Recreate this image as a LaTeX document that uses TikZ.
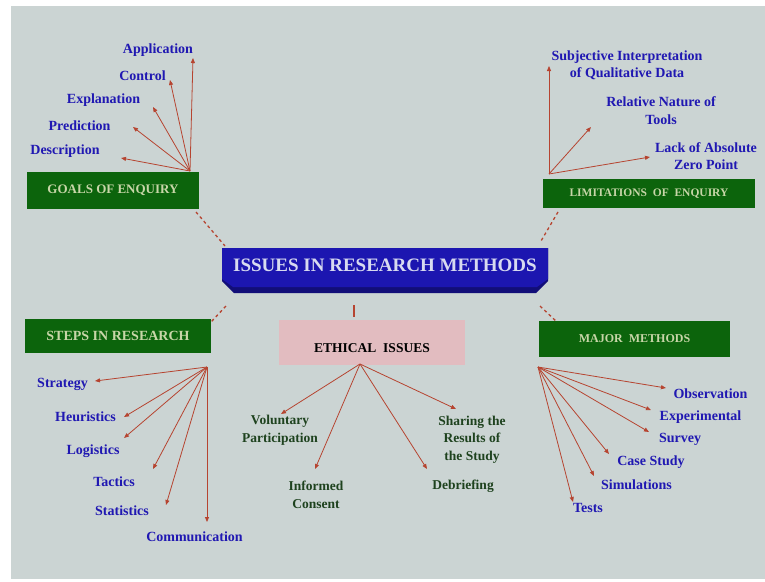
\documentclass[tikz,border=0pt]{standalone}
\usepackage{fontspec}
\setmainfont{Liberation Serif}
\usetikzlibrary{arrows.meta}
\definecolor{bg}{RGB}{203,212,211}
\definecolor{boxgreen}{RGB}{12,100,12}
\definecolor{boxtext}{RGB}{200,214,168}
\definecolor{lblue}{RGB}{32,24,178}
\definecolor{lgreen}{RGB}{30,66,30}
\definecolor{arr}{RGB}{182,68,48}
\definecolor{titleblue}{RGB}{28,22,176}
\definecolor{titledark}{RGB}{18,14,120}
\definecolor{pinkbox}{RGB}{226,188,192}
\tikzset{
  gbox/.style={fill=boxgreen, draw=none, inner sep=0pt, text=boxtext, font=\fontsize{13}{15}\selectfont\bfseries},
  lbl/.style={text=lblue, inner sep=0pt, font=\fontsize{14}{16}\selectfont\bfseries, align=center},
  glbl/.style={text=lgreen, inner sep=0pt, font=\fontsize{13.5}{17.5}\selectfont\bfseries, align=center},
  arrline/.style={draw=arr, line width=0.8pt, -{Triangle[length=5pt,width=4pt]}},
  dashline/.style={draw=arr, line width=1.3pt, dash pattern=on 3pt off 3pt},
}
\begin{document}
\begin{tikzpicture}[x=1pt,y=-1pt]
\useasboundingbox (0,0) rectangle (765,581);
\fill[white] (0,0) rectangle (765,581);
\fill[bg] (11,6) rectangle (765,579);

% ---------- title ----------
\fill[titledark] (222,248) -- (548,248) -- (548,281) -- (536,293) -- (234,293) -- (222,281) -- cycle;
\fill[titleblue] (222,248) -- (548,248) -- (548,279) -- (537,287) -- (233,287) -- (222,279) -- cycle;
\node[text={rgb,255:red,215;green,218;blue,240}, font=\fontsize{19}{21}\selectfont\bfseries, inner sep=0pt] (title) at (385,265) {ISSUES IN RESEARCH METHODS};

% ---------- boxes ----------
\node[gbox, minimum width=172pt, minimum height=37pt] (goals) at (113,190.5) {GOALS OF ENQUIRY};
\node[gbox, minimum width=212pt, minimum height=29pt, font=\fontsize{11.5}{13}\selectfont\bfseries] (limits) at (649,193.5) {LIMITATIONS\ \ OF\ \ ENQUIRY};
\node[gbox, minimum width=186pt, minimum height=34pt, font=\fontsize{14}{16}\selectfont\bfseries] (steps) at (118,336) {STEPS IN RESEARCH};
\node[gbox, minimum width=191pt, minimum height=36pt, font=\fontsize{12}{14}\selectfont\bfseries] (major) at (634.5,339) {MAJOR\ \ METHODS};
\node[fill=pinkbox, inner sep=0pt, minimum width=186pt, minimum height=45pt, text=black, font=\fontsize{13.5}{15}\selectfont\bfseries] (ethical) at (372,342.5) {};
\node[inner sep=0pt, text=black, font=\fontsize{13.5}{15}\selectfont\bfseries] (ethtext) at (372,348) {ETHICAL\ \ ISSUES};

% ---------- dashed links ----------
\coordinate (d1a) at (196,212); \coordinate (d1b) at (225,246);
\coordinate (d2a) at (558,212); \coordinate (d2b) at (541,241);
\coordinate (d3a) at (226,306); \coordinate (d3b) at (211,322);
\coordinate (d4a) at (540,306); \coordinate (d4b) at (557,322);
\coordinate (d5a) at (354,305); \coordinate (d5b) at (354,317);
\draw[dashline] (d1a) -- (d1b);
\draw[dashline] (d2a) -- (d2b);
\draw[dashline] (d3a) -- (d3b);
\draw[dashline] (d4a) -- (d4b);
\draw[draw=arr, line width=1.3pt] (d5a) -- (d5b);

% ---------- goals ----------
\coordinate (go) at (190,171);
\node[lbl] (application) at (158,50) {Application};
\node[lbl] (control) at (142.5,76) {Control};
\node[lbl] (explanation) at (103.5,100) {Explanation};
\node[lbl] (prediction) at (79.5,126) {Prediction};
\node[lbl] (description) at (65,151) {Description};
\coordinate (tapp) at (193,58);
\coordinate (tcon) at (170,80);
\coordinate (texp) at (153,107);
\coordinate (tpre) at (133,127);
\coordinate (tdes) at (121,158);
\foreach \t in {tapp,tcon,texp,tpre,tdes} \draw[arrline] (go) -- (\t);

% ---------- limitations ----------
\coordinate (lo) at (549,174);
\node[lbl] (subj) at (627,65.5) {Subjective Interpretation\\[1.5pt]of Qualitative Data};
\node[lbl] (rel) at (661,110.5) {Relative Nature of\\[1.5pt]Tools};
\node[lbl] (lack) at (706,156) {Lack of Absolute\\[1pt]Zero Point};
\coordinate (tsub) at (549,66);
\coordinate (trel) at (591,127);
\coordinate (tlack) at (650,157);
\foreach \t in {tsub,trel,tlack} \draw[arrline] (lo) -- (\t);

% ---------- steps ----------
\coordinate (so) at (207,367);
\node[lbl] (strategy) at (62.5,384) {Strategy};
\node[lbl] (heur) at (85.5,417) {Heuristics};
\node[lbl] (logi) at (93,451) {Logistics};
\node[lbl] (tact) at (114,482) {Tactics};
\node[lbl] (stat) at (122,511) {Statistics};
\node[lbl] (comm) at (194.5,537) {Communication};
\coordinate (tstr) at (95,381);
\coordinate (theu) at (124,417);
\coordinate (tlog) at (124,438);
\coordinate (ttac) at (153,469);
\coordinate (tsta) at (166,505);
\coordinate (tcom) at (207,522);
\foreach \t in {tstr,theu,tlog,ttac,tsta,tcom} \draw[arrline] (so) -- (\t);

% ---------- ethical ----------
\coordinate (eo) at (360,364);
\node[glbl] (vol) at (280,430) {Voluntary\\Participation};
\node[glbl] (inf) at (316,495) {Informed\\Consent};
\node[glbl] (deb) at (463,486) {Debriefing};
\node[glbl] (shar) at (472,439.5) {Sharing the\\Results of\\the Study};
\coordinate (tvol) at (281,414);
\coordinate (tinf) at (315,469);
\coordinate (tdeb) at (427,469);
\coordinate (tsha) at (456,409);
\foreach \t in {tvol,tinf,tdeb,tsha} \draw[arrline] (eo) -- (\t);

% ---------- major methods ----------
\coordinate (mo) at (538,367);
\node[lbl] (obs) at (710.5,394) {Observation};
\node[lbl] (exp) at (700.5,417) {Experimental};
\node[lbl] (sur) at (680,439) {Survey};
\node[lbl] (case) at (651,462) {Case Study};
\node[lbl] (sim) at (636.5,485) {Simulations};
\node[lbl] (tests) at (588,508) {Tests};
\coordinate (tobs) at (666,388);
\coordinate (texpm) at (651,410);
\coordinate (tsur) at (649,432);
\coordinate (tcase) at (609,454);
\coordinate (tsim) at (594,476);
\coordinate (ttest) at (573,502);
\foreach \t in {tobs,texpm,tsur,tcase,tsim,ttest} \draw[arrline] (mo) -- (\t);
\end{tikzpicture}
\end{document}
